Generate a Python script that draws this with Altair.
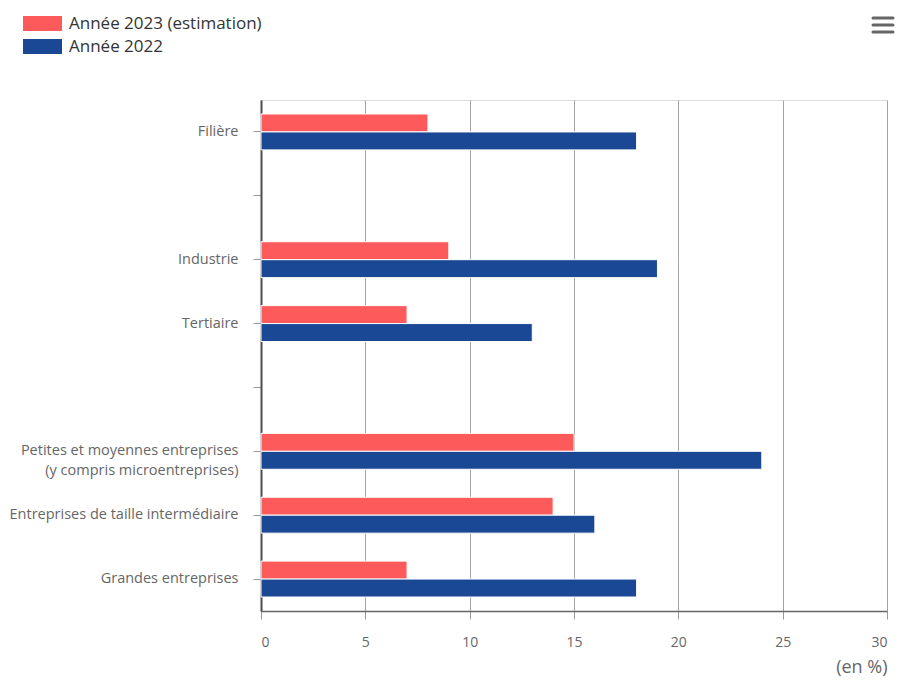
import altair as alt
import pandas as pd

categories = [
    "Filière",
    "_vide1",
    "Industrie",
    "Tertiaire",
    "_vide2",
    "Petites et moyennes entreprises|(y compris microentreprises)",
    "Entreprises de taille intermédiaire",
    "Grandes entreprises",
]
series = ["Année 2023 (estimation)", "Année 2022"]
values_2023 = [8, None, 9, 7, None, 15, 14, 7]
values_2022 = [18, None, 19, 13, None, 24, 16, 18]
x_ticks = [0, 5, 10, 15, 20, 25, 30]
colors = ["#fd5b5b", "#1a4895"]

rows = []
for cat, v23, v22 in zip(categories, values_2023, values_2022):
    if v23 is not None:
        rows.append({"cat": cat, "serie": series[0], "val": v23})
    if v22 is not None:
        rows.append({"cat": cat, "serie": series[1], "val": v22})
df = pd.DataFrame(rows)

FONT = "Open Sans"
PLOT_W = 626
PLOT_H = 511

bars = alt.Chart(df).mark_bar(stroke="white", strokeWidth=1).encode(
    y=alt.Y(
        "cat:N",
        sort=categories,
        scale=alt.Scale(domain=categories, paddingInner=0, paddingOuter=0),
        axis=alt.Axis(
            title=None,
            labelExpr="indexof(datum.value, '_') == 0 ? '' : split(datum.value, '|')",
            labelFont=FONT,
            labelFontSize=14.5,
            labelColor="#666666",
            labelPadding=15,
            labelLineHeight=20,
            labelLimit=400,
            tickSize=8,
            tickColor="#999999",
            domainColor="#4d4d4d",
            domainWidth=2,
            grid=False,
        ),
    ),
    yOffset=alt.YOffset(
        "serie:N",
        sort=series,
        scale=alt.Scale(domain=series, paddingInner=0, paddingOuter=0.78),
    ),
    x=alt.X(
        "val:Q",
        scale=alt.Scale(domain=[0, 30], nice=False),
        axis=alt.Axis(
            values=x_ticks,
            title="(en %)",
            titleFont=FONT,
            titleFontSize=18,
            titleFontWeight="normal",
            titleColor="#666666",
            titleAnchor="end",
            titlePadding=9,
            labelFont=FONT,
            labelFontSize=14,
            labelColor="#666666",
            labelPadding=16,
            tickSize=8,
            tickColor="#999999",
            domainColor="#666666",
            domainWidth=1.5,
            grid=True,
            gridColor="#a3a3a3",
            gridWidth=1,
        ),
    ),
    color=alt.Color(
        "serie:N",
        sort=series,
        scale=alt.Scale(domain=series, range=colors),
        legend=alt.Legend(
            title=None,
            orient="none",
            legendX=-227,
            legendY=-85,
            direction="vertical",
            symbolType="M-2.6,-1L2.6,-1L2.6,1L-2.6,1Z",
            symbolSize=225,
            symbolStrokeWidth=0,
            labelFont=FONT,
            labelFontSize=17,
            labelColor="#333333",
            labelOffset=18,
            labelLimit=500,
            rowPadding=5,
            padding=0,
        ),
    ),
)

dummy = alt.Data(values=[{"k": 1}])
menu_layers = []
for yv in [-82, -75, -68]:
    menu_layers.append(
        alt.Chart(dummy).mark_rule(color="#666666", strokeWidth=3, strokeCap="round").encode(
            x=alt.value(612), x2=alt.value(632), y=alt.value(yv)
        )
    )

chart = alt.layer(bars, *menu_layers).properties(
    width=PLOT_W,
    height=PLOT_H,
    padding={"left": 253, "top": 92, "right": 8, "bottom": 70},
    autosize=alt.AutoSizeParams(type="none"),
).configure_view(stroke=None).configure(background="white")

chart.save("out.html", embed_options={"renderer": "svg", "actions": False})
